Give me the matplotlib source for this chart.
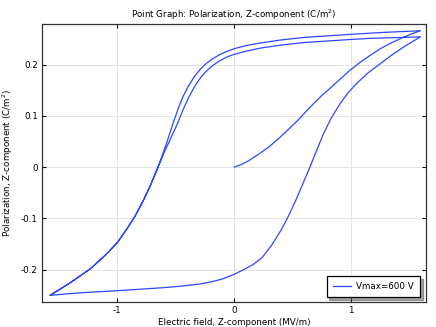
import matplotlib
matplotlib.use("Agg")
import matplotlib.pyplot as plt

plt.rcParams['font.family'] = ['DejaVu Sans']
plt.rcParams['axes.unicode_minus'] = False

# Virgin curve (from origin to first positive tip)
virgin_x = [0.00, 0.06, 0.12, 0.22, 0.30, 0.39, 0.47, 0.56, 0.62, 0.675, 0.75, 0.83, 0.903,
            0.99, 1.08, 1.17, 1.25, 1.35, 1.445, 1.52, 1.593]
virgin_y = [0.000, 0.005, 0.012, 0.027, 0.040, 0.058, 0.075, 0.095, 0.110, 0.123, 0.140, 0.156, 0.171,
            0.189, 0.205, 0.219, 0.231, 0.243, 0.253, 0.260, 0.266]

# First descending branch
desc1_x = [1.593, 1.45, 1.30, 1.15, 1.00, 0.80, 0.60, 0.40, 0.22, 0.10, 0.00, -0.06, -0.12, -0.18,
           -0.24, -0.29, -0.34, -0.39, -0.44, -0.48, -0.52, -0.56, -0.60, -0.64, -0.68, -0.72,
           -0.78, -0.85, -0.92, -1.00, -1.10, -1.23, -1.40, -1.575]
desc1_y = [0.266, 0.2645, 0.263, 0.261, 0.259, 0.256, 0.253, 0.248, 0.242, 0.237, 0.231, 0.226, 0.220, 0.212,
           0.202, 0.191, 0.177, 0.159, 0.137, 0.114, 0.088, 0.060, 0.033, 0.008, -0.015, -0.037,
           -0.066, -0.096, -0.121, -0.147, -0.171, -0.198, -0.225, -0.250]

# Ascending branch
asc_x = [-1.575, -1.40, -1.20, -1.00, -0.80, -0.60, -0.45, -0.30, -0.20, -0.10, 0.00, 0.08, 0.16,
         0.24, 0.32, 0.40, 0.46, 0.52, 0.58, 0.647, 0.70, 0.761, 0.83, 0.903, 0.97, 1.046, 1.14,
         1.245, 1.35, 1.46, 1.593]
asc_y = [-0.250, -0.2465, -0.2435, -0.241, -0.238, -0.235, -0.232, -0.228, -0.224, -0.218, -0.209, -0.200, -0.190,
         -0.176, -0.152, -0.123, -0.097, -0.068, -0.036, 0.000, 0.030, 0.064, 0.096, 0.123, 0.144, 0.163, 0.183,
         0.201, 0.219, 0.236, 0.254]

# Second descending branch
desc2_x = [1.593, 1.45, 1.30, 1.15, 1.00, 0.80, 0.60, 0.40, 0.22, 0.10, 0.00, -0.06, -0.12, -0.18,
           -0.24, -0.29, -0.34, -0.39, -0.44, -0.48, -0.52, -0.56, -0.60, -0.64, -0.68, -0.72,
           -0.78, -0.85, -0.92, -1.00, -1.10, -1.23, -1.40, -1.575]
desc2_y = [0.254, 0.253, 0.252, 0.251, 0.249, 0.246, 0.243, 0.238, 0.232, 0.226, 0.220, 0.215, 0.208, 0.199,
           0.187, 0.174, 0.157, 0.136, 0.111, 0.088, 0.068, 0.048, 0.029, 0.006, -0.015, -0.037,
           -0.066, -0.096, -0.121, -0.147, -0.171, -0.198, -0.225, -0.250]

series_label = "Vmax=600 V"
xticks = [-1, 0, 1]
xtick_labels = ["-1", "0", "1"]
yticks = [-0.2, -0.1, 0, 0.1, 0.2]
ytick_labels = ["-0.2", "-0.1", "0", "0.1", "0.2"]

x_all = virgin_x + desc1_x[1:] + asc_x[1:] + desc2_x[1:]
y_all = virgin_y + desc1_y[1:] + asc_y[1:] + desc2_y[1:]

fig = plt.figure(figsize=(4.36, 3.27), dpi=100)
ax = fig.add_axes([0.0963, 0.0765, 0.8807, 0.8515])

ax.plot(x_all, y_all, color='#2e48ff', lw=0.9, label=series_label)

ax.set_xlim(-1.645, 1.64)
ax.set_ylim(-0.263, 0.280)
ax.set_xticks(xticks)
ax.set_xticklabels(xtick_labels)
ax.set_yticks(yticks)
ax.set_yticklabels(ytick_labels)
ax.grid(True, color='#e4e4e4', lw=0.7)
ax.set_axisbelow(True)
ax.tick_params(direction='in', length=3, width=0.8, labelsize=6.3, top=True, right=True,
               colors='black', pad=3)
for s in ax.spines.values():
    s.set_linewidth(0.9)
    s.set_color('#333333')

ax.set_title("Point Graph: Polarization, Z-component (C/m$^2$)", fontsize=6.3, pad=4)
ax.set_xlabel("Electric field, Z-component (MV/m)", fontsize=6.3, labelpad=2)
ax.set_ylabel("Polarization, Z-component (C/m$^2$)", fontsize=6.3, labelpad=4)

leg = ax.legend(loc='lower right', fontsize=6.3, fancybox=False, shadow=True,
                edgecolor='black', framealpha=1, borderpad=0.7, handlelength=2.1,
                handletextpad=0.6, borderaxespad=0, bbox_to_anchor=(0.985, 0.018))
leg.get_frame().set_linewidth(0.9)

fig.savefig("out.png", dpi=100)
